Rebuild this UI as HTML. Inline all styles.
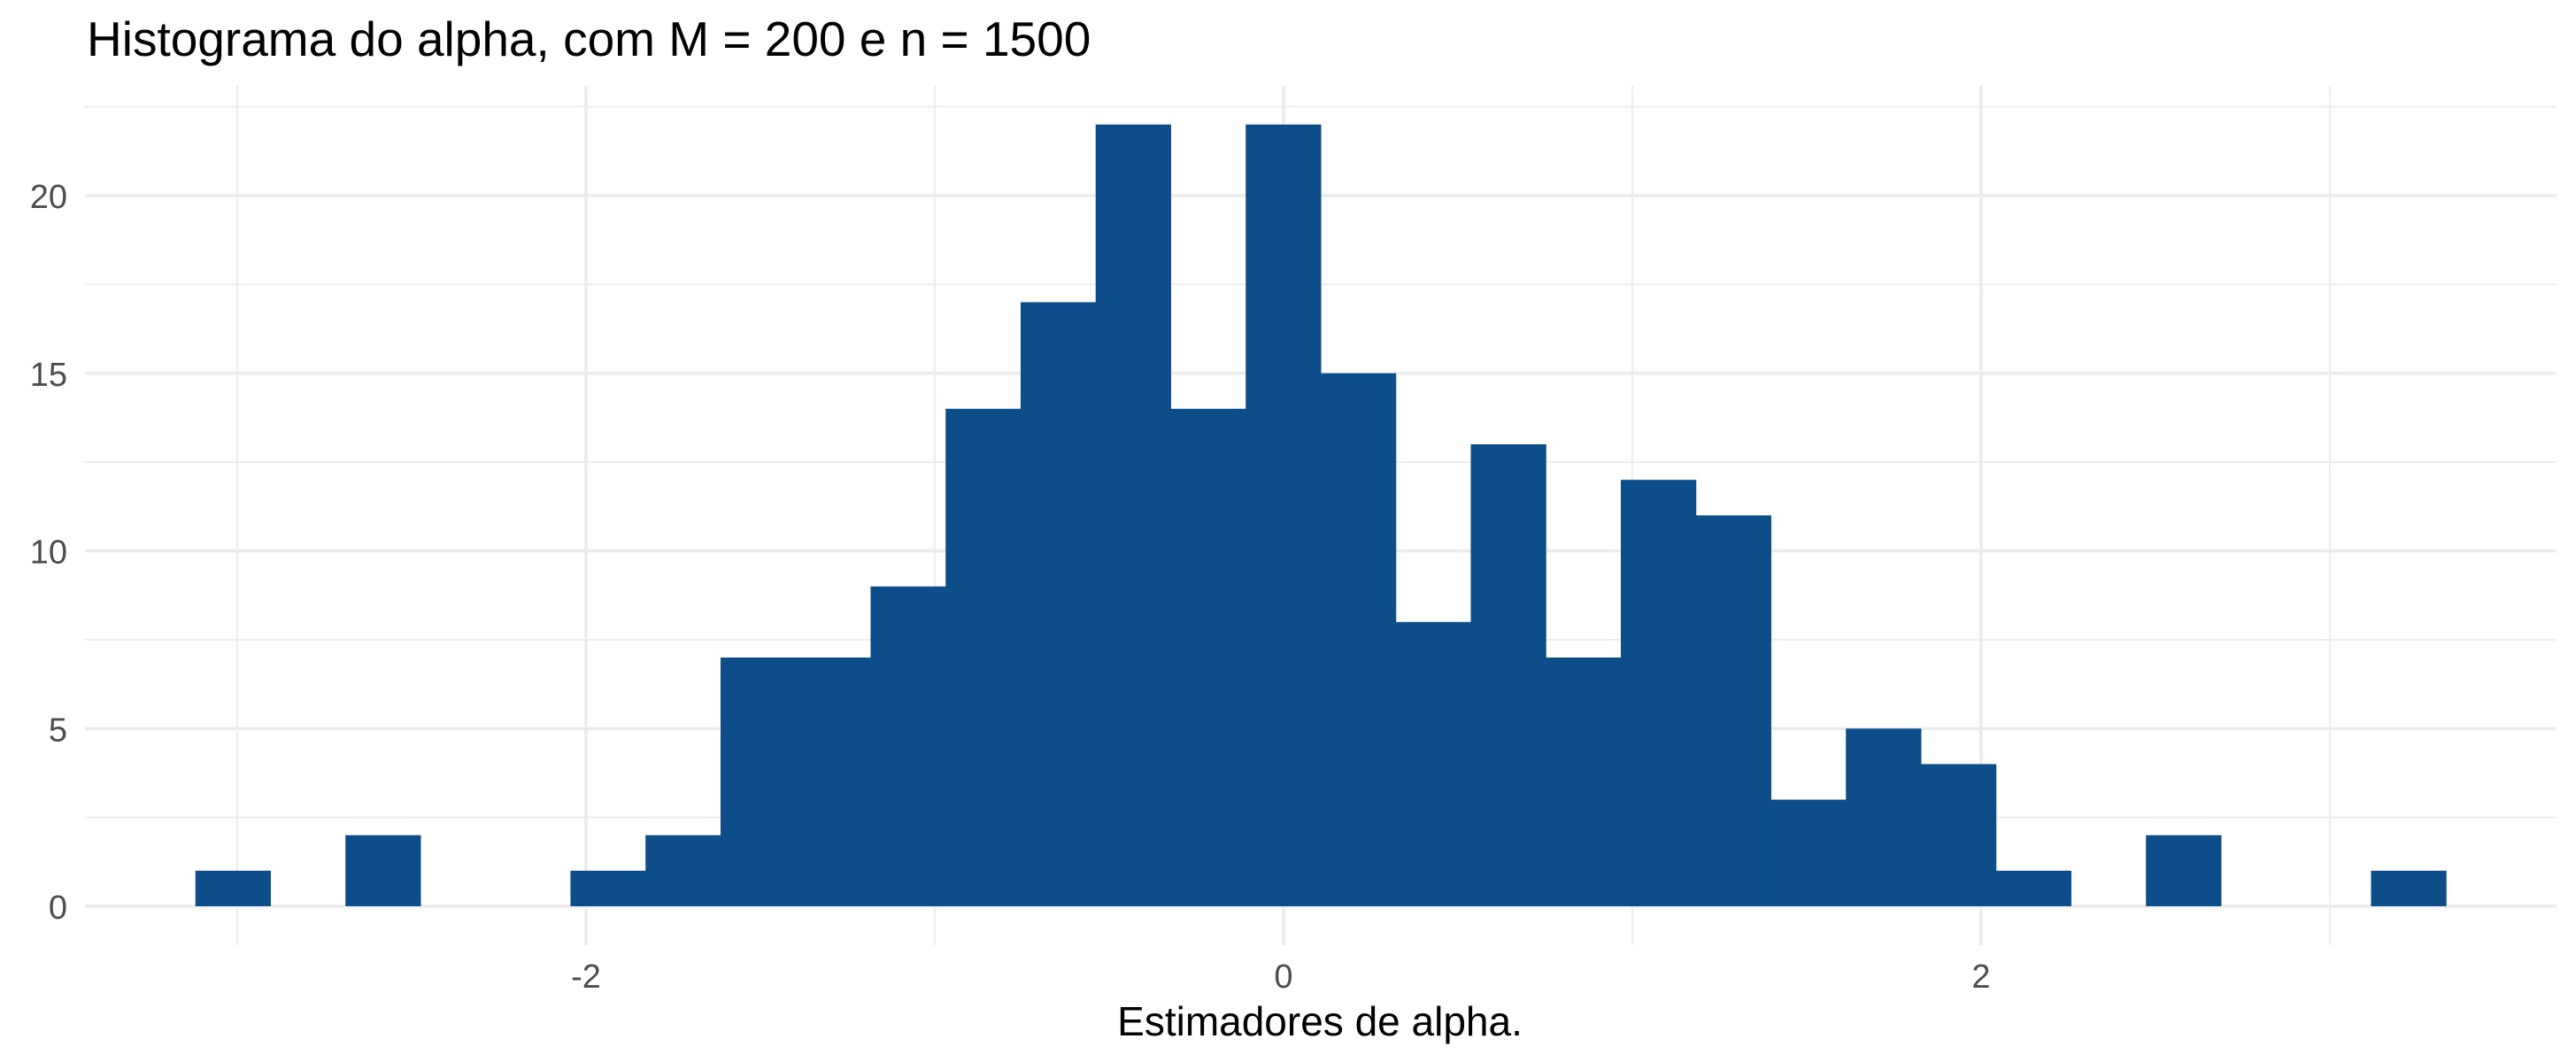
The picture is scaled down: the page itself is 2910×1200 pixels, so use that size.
<!DOCTYPE html>
<html><head><meta charset="utf-8"><style>
html,body{margin:0;padding:0;background:#fff;}
svg{display:block;font-family:"Liberation Sans",Arial,sans-serif;}
</style></head><body>
<svg id="chart" width="2910" height="1200" viewBox="0 0 2910 1200">
<text x="98" y="63" font-size="55" fill="#000">Histograma do alpha, com M = 200 e n = 1500</text>
<g id="grid"></g>
<g id="bars"></g>
<g id="yticks"></g>
<g id="xticks"></g>
<text x="1491" y="1170" font-size="46" text-anchor="middle" fill="#000">Estimadores de alpha.</text>
</svg>
<script>
const binStart = -3.12;
const binWidth = 0.2151;
const counts = [1,0,2,0,0,1,2,7,7,9,14,17,22,14,22,15,8,13,7,12,11,3,5,4,1,0,2,0,0,1];
const xTicks = [-2, 0, 2];
const xTickLabels = ["-2", "0", "2"];
const xMinor = [-3, -1, 1, 3];
const yTicks = [0, 5, 10, 15, 20];
const yTickLabels = ["0", "5", "10", "15", "20"];
const yMinor = [2.5, 7.5, 12.5, 17.5, 22.5];

const X0 = 1450, XU = 394, Y0 = 1024, YU = 40.15;
const PL = 96, PR = 2888, PT = 97, PB = 1068;
const sx = v => X0 + v * XU;
const sy = v => Y0 - v * YU;
const NS = "http://www.w3.org/2000/svg";
function mk(tag, attrs, parent){const e=document.createElementNS(NS,tag);for(const k in attrs)e.setAttribute(k,attrs[k]);parent.appendChild(e);return e;}
const grid=document.getElementById('grid');
yMinor.forEach(v=>{const l=mk('line',{x1:PL,x2:PR,y1:sy(v),y2:sy(v),stroke:'#ebebeb','stroke-width':1.8},grid);

});
xMinor.forEach(v=>{const l=mk('line',{x1:sx(v),x2:sx(v),y1:PT,y2:PB,stroke:'#ebebeb','stroke-width':1.8},grid);

});
yTicks.forEach(v=>{const l=mk('line',{x1:PL,x2:PR,y1:sy(v),y2:sy(v),stroke:'#ebebeb','stroke-width':3.4},grid);

});
xTicks.forEach(v=>{const l=mk('line',{x1:sx(v),x2:sx(v),y1:PT,y2:PB,stroke:'#ebebeb','stroke-width':3.4},grid);

});
const bars=document.getElementById('bars');
counts.forEach((c,i)=>{if(c<=0)return;
const x1=sx(binStart+i*binWidth), x2=sx(binStart+(i+1)*binWidth);
const r=mk('rect',{x:x1,y:sy(c),width:x2-x1+0.5,height:sy(0)-sy(c),fill:'#0d4e8a'},bars);

});
const yt=document.getElementById('yticks');
yTicks.forEach((v,i)=>{const t=mk('text',{x:76,y:sy(v)+14,'font-size':38,'text-anchor':'end',fill:'#4d4d4d'},yt);t.textContent=yTickLabels[i];

});
const xt=document.getElementById('xticks');
xTicks.forEach((v,i)=>{const t=mk('text',{x:sx(v),y:1116,'font-size':38,'text-anchor':'middle',fill:'#4d4d4d'},xt);t.textContent=xTickLabels[i];

});
</script>
</body></html>
